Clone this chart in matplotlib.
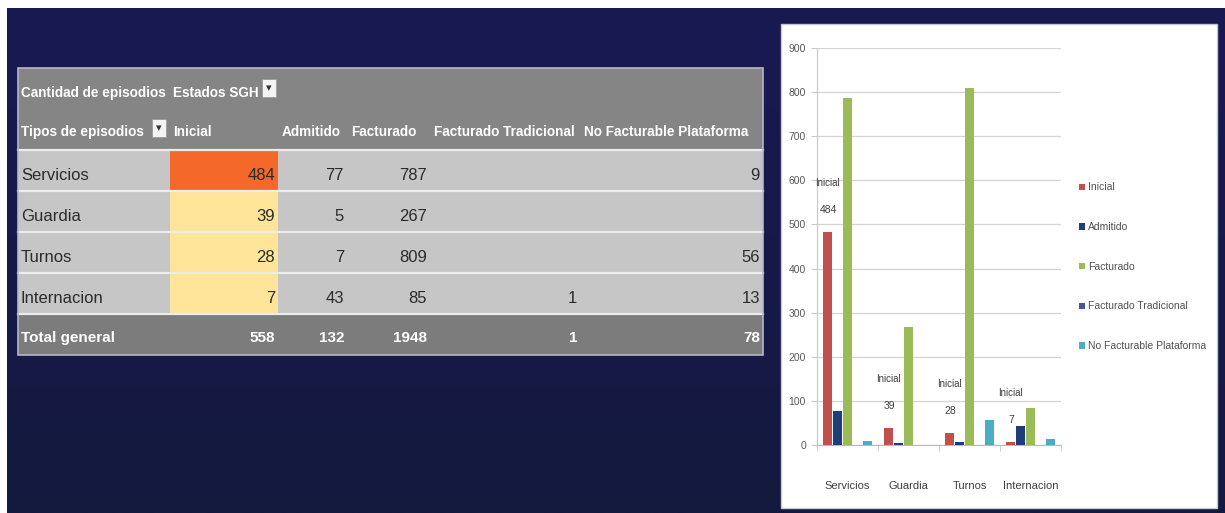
"""Pivot table of episode states (Estados SGH) per episode type, next to the
matching clustered bar chart, on a navy slide background."""

import matplotlib

matplotlib.use("Agg")
import matplotlib.pyplot as plt
import numpy as np
from matplotlib.patches import Rectangle

CATEGORIES = ["Servicios", "Guardia", "Turnos", "Internacion"]
SERIES = ["Inicial", "Admitido", "Facturado", "Facturado Tradicional", "No Facturable Plataforma"]
INICIAL = [484, 39, 28, 7]
ADMITIDO = [77, 5, 7, 43]
FACTURADO = [787, 267, 809, 85]
FACT_TRADICIONAL = [None, None, None, 1]
NO_FACTURABLE = [9, None, 56, 13]
Y_TICKS = [0, 100, 200, 300, 400, 500, 600, 700, 800, 900]

SERIES_COLORS = ["#C0504D", "#1F3D7A", "#9BBB59", "#4A5699", "#4BACC6"]
FONT = ["Liberation Sans", "DejaVu Sans"]

W, H = 1225, 513

# table layout in pixels (left/top origin)
COL_EDGES = [18, 170, 278, 347, 430, 580, 763]
TABLE_TOP = 68
ROW_H = 41


def _series_table() -> list[list]:
    return [INICIAL, ADMITIDO, FACTURADO, FACT_TRADICIONAL, NO_FACTURABLE]


def draw_background(bg) -> None:
    grad = np.linspace(0, 1, 200).reshape(-1, 1)
    top = np.array([0x19, 0x1a, 0x52]) / 255
    bot = np.array([0x14, 0x19, 0x3e]) / 255
    img = top + (bot - top) * grad[..., None]
    bg.imshow(img, extent=(7, W, H, 8), aspect="auto", zorder=0)
    # white chart panel
    bg.add_patch(Rectangle((781, 24), 436, 484, facecolor="white",
                           edgecolor="#c8c8d8", linewidth=1, zorder=1))


def draw_table(bg) -> None:
    series = _series_table()
    left, right = COL_EDGES[0], COL_EDGES[-1]
    n_rows = 2 + len(CATEGORIES) + 1
    bottom = TABLE_TOP + n_rows * ROW_H

    # header band, body rows, total row
    bg.add_patch(Rectangle((left, TABLE_TOP), right - left, 2 * ROW_H,
                           facecolor="#858585", zorder=2))
    body_top = TABLE_TOP + 2 * ROW_H
    body = dict(va="center", fontsize=12, color="#2b2b2b", family=FONT, zorder=5)
    for r, cat in enumerate(CATEGORIES):
        y0 = body_top + r * ROW_H
        bg.add_patch(Rectangle((left, y0), right - left, ROW_H,
                               facecolor="#c6c6c6", zorder=2))
        val = INICIAL[r]
        bg.add_patch(Rectangle((COL_EDGES[1], y0), COL_EDGES[2] - COL_EDGES[1], ROW_H,
                               facecolor="#F4692A" if val == max(INICIAL) else "#FFE59A",
                               zorder=3))
        bg.text(left + 3, y0 + ROW_H * 0.62, cat, ha="left", **body)
        for c, col in enumerate(series):
            if col[r] is None:
                continue
            bg.text(COL_EDGES[c + 2] - 3, y0 + ROW_H * 0.62, str(col[r]), ha="right", **body)
        bg.plot([left, right], [y0, y0], color="#ececec", linewidth=1.6, zorder=4)

    total_top = body_top + len(CATEGORIES) * ROW_H
    bg.add_patch(Rectangle((left, total_top), right - left, ROW_H,
                           facecolor="#7c7c7c", zorder=2))
    bg.plot([left, right], [total_top, total_top], color="#ececec", linewidth=1.6, zorder=4)
    tot = dict(va="center", fontsize=11, color="white", fontweight="bold",
               family=FONT, zorder=5)
    bg.text(left + 3, total_top + ROW_H * 0.58, "Total general", ha="left", **tot)
    for c, col in enumerate(series):
        total = sum(v for v in col if v is not None)
        bg.text(COL_EDGES[c + 2] - 3, total_top + ROW_H * 0.58, str(total), ha="right", **tot)

    # header texts
    hy0 = TABLE_TOP + ROW_H * 0.61
    hy1 = TABLE_TOP + ROW_H * 1.57
    hdr = dict(va="center", fontsize=9.8, color="white", fontweight="bold",
               family=FONT, zorder=5)
    bg.text(left + 3, hy0, "Cantidad de episodios", ha="left", **hdr)
    bg.text(COL_EDGES[1] + 3, hy0, "Estados SGH", ha="left", **hdr)
    bg.text(left + 3, hy1, "Tipos de episodios", ha="left", **hdr)
    for c, name in enumerate(SERIES):
        bg.text(COL_EDGES[c + 1] + (3 if c == 0 else 4), hy1, name, ha="left", **hdr)

    # dropdown / filter buttons
    for bx, by in [(262, TABLE_TOP + 11), (152, TABLE_TOP + ROW_H + 10)]:
        bg.add_patch(Rectangle((bx, by), 14, 18, facecolor="#f4f4f4",
                               edgecolor="#9a9a9a", linewidth=0.6, zorder=5))
        bg.text(bx + 7, by + 9, "\u25be", ha="center", va="center", fontsize=8,
                color="#333333", family="DejaVu Sans", zorder=6)

    # outer border
    bg.add_patch(Rectangle((left, TABLE_TOP), right - left, bottom - TABLE_TOP,
                           facecolor="none", edgecolor="#b4b6cc", linewidth=1.2, zorder=6))


def draw_chart(fig) -> None:
    ax = fig.add_axes([817 / W, (H - 445) / H, 244 / W, 397 / H])
    ax.set_facecolor("white")
    x = np.arange(len(CATEGORIES))
    step, width = 0.164, 0.135
    for k, (name, vals) in enumerate(zip(SERIES, _series_table())):
        heights = [0 if v is None else v for v in vals]
        ax.bar(x + (k - 2) * step, heights, width=width, color=SERIES_COLORS[k],
               label=name, linewidth=0, zorder=3)

    # "Inicial" data labels over the first series
    for i, v in enumerate(INICIAL):
        xi = x[i] - 2 * step
        ax.annotate(str(v), (xi, v), xytext=(1, 22), textcoords="offset pixels",
                    ha="center", va="center", fontsize=7.5, color="#404040", family=FONT)
        ax.annotate("Inicial", (xi, v), xytext=(0, 49), textcoords="offset pixels",
                    ha="center", va="center", fontsize=7, color="#404040", family=FONT)

    ax.set_xlim(-0.5, len(CATEGORIES) - 0.5)
    ax.set_ylim(Y_TICKS[0], Y_TICKS[-1])
    ax.set_yticks(Y_TICKS)
    ax.set_yticklabels([str(t) for t in Y_TICKS], family=FONT, fontsize=7.5, color="#595959")
    ax.set_xticks(x)
    ax.set_xticklabels(CATEGORIES, family=FONT, fontsize=8, color="#404040")
    ax.set_xticks(np.arange(len(CATEGORIES) + 1) - 0.5, minor=True)
    ax.tick_params(axis="x", which="major", length=0, pad=26)
    ax.tick_params(axis="x", which="minor", length=4, color="#c8c8c8")
    ax.tick_params(axis="y", length=4, color="#c8c8c8", pad=4)
    ax.grid(axis="y", color="#d4d4d4", linewidth=0.9, zorder=0)
    for side in ("top", "right"):
        ax.spines[side].set_visible(False)
    ax.spines["left"].set_color("#c8c8c8")
    ax.spines["bottom"].set_color("#b8b8b8")

    handles, labels = ax.get_legend_handles_labels()
    fig.legend(handles, labels, loc="upper left", bbox_to_anchor=(1070 / W, 1 - 173 / H),
               frameon=False, handlelength=0.55, handleheight=0.55, handletextpad=0.3,
               labelspacing=2.85, prop={"family": FONT, "size": 7.5}, labelcolor="#505050")


def main() -> None:
    fig = plt.figure(figsize=(W / 100, H / 100), dpi=100, facecolor="white")
    bg = fig.add_axes([0, 0, 1, 1])
    bg.set_xlim(0, W)
    bg.set_ylim(H, 0)
    bg.axis("off")
    draw_background(bg)
    draw_table(bg)
    draw_chart(fig)
    fig.savefig("out.png", dpi=100, facecolor=fig.get_facecolor())
    plt.close(fig)


if __name__ == "__main__":
    main()
